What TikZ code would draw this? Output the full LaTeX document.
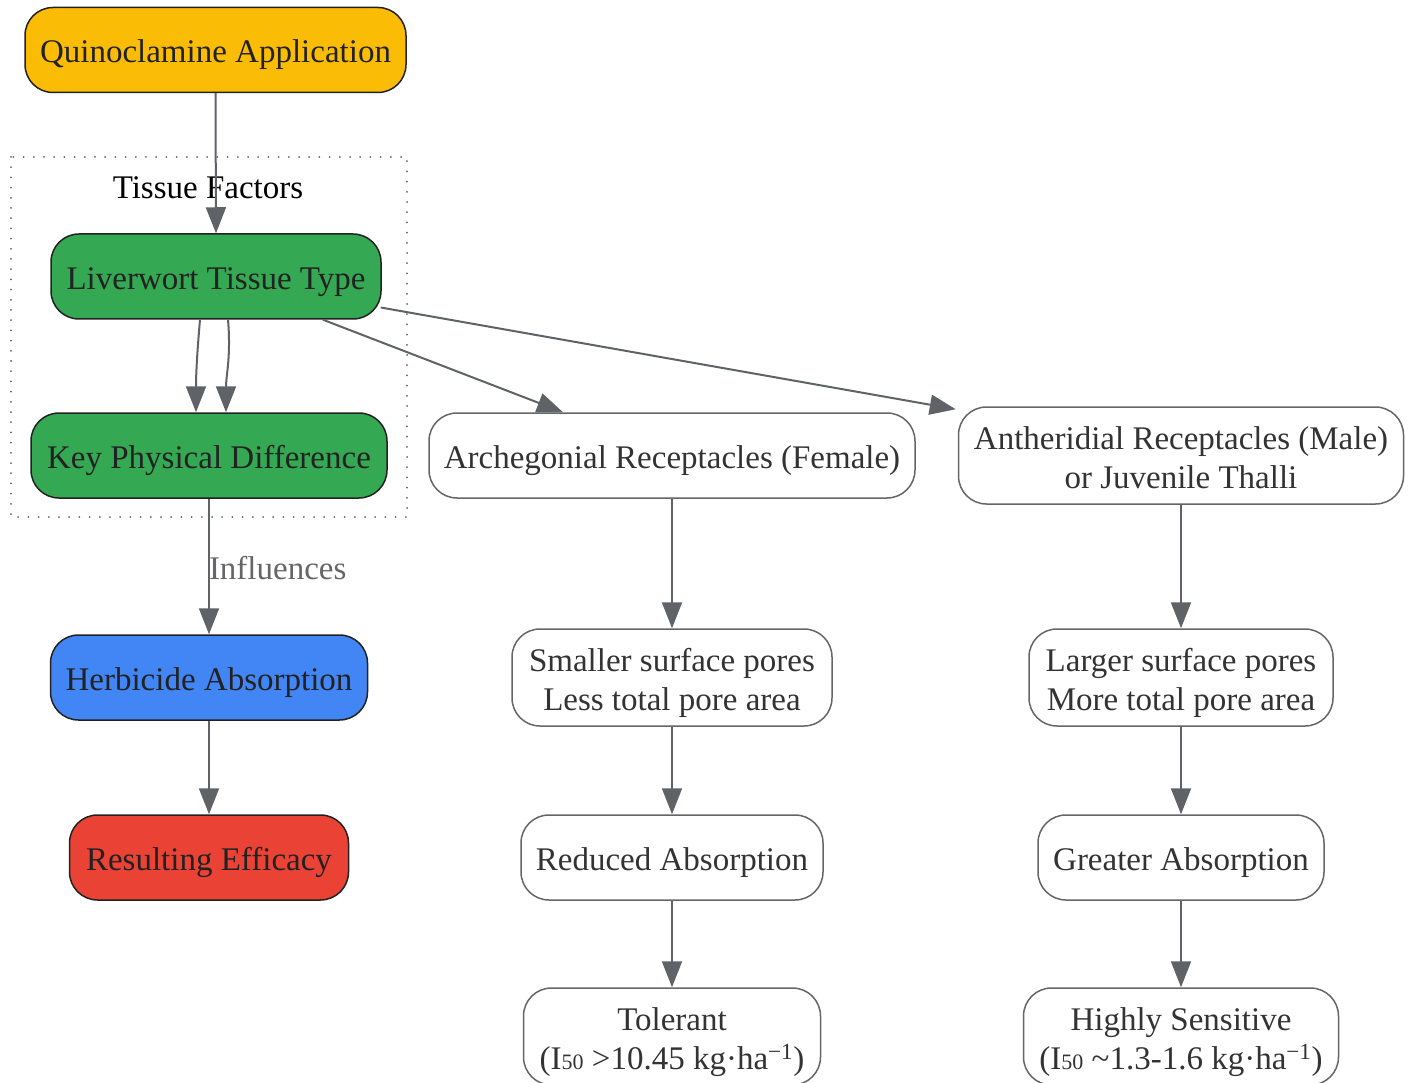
\documentclass[tikz,border=0pt]{standalone}
\usepackage{fontspec}
\setmainfont{Liberation Serif}
\usetikzlibrary{arrows.meta}
\definecolor{edgecol}{HTML}{5F6368}
\definecolor{cyellow}{HTML}{FBBC05}
\definecolor{cgreen}{HTML}{34A853}
\definecolor{cblue}{HTML}{4285F4}
\definecolor{cred}{HTML}{EA4335}
\definecolor{darkline}{HTML}{222222}
\definecolor{grayline}{HTML}{666666}
\definecolor{txtdark}{HTML}{222222}
\definecolor{txtgray}{HTML}{333333}
\newcommand{\isub}{I{\fontsize{22}{22}\selectfont 50}}
\newcommand{\sqinv}{\textsuperscript{−1}}
\tikzset{
  basebox/.style={rounded corners=28pt, line width=1.5pt, align=center,
    font=\fontsize{33}{39}\selectfont, inner sep=0pt, minimum height=85pt,
    text height=26pt, text depth=0pt},
  twoline/.style={minimum height=97pt, text depth=0pt},
  colbox/.style={basebox, draw=darkline, text=txtdark},
  whitebox/.style={basebox, draw=grayline, fill=white, text=txtgray},
  conn/.style={draw=edgecol, line width=2pt, -{Triangle[length=26pt,width=20pt]}},
}
\begin{document}
\begin{tikzpicture}[x=1pt,y=-1pt]
\useasboundingbox (0,0) rectangle (1414,1083);
% cluster
\draw[edgecol, line width=2pt, dash pattern=on 0pt off 10.2pt, line cap=round] (11,157) rectangle (407,517);
\node[font=\fontsize{33}{39}\selectfont, text=black] (tf) at (208,188) {Tissue Factors};

\node[colbox, fill=cyellow, minimum width=381pt] (qa) at (215.5,50) {Quinoclamine Application};
\node[colbox, fill=cgreen, minimum width=330pt] (lt) at (216,276.5) {Liverwort Tissue Type};
\node[colbox, fill=cgreen, minimum width=356pt] (kp) at (209,455.5) {Key Physical Difference};
\node[colbox, fill=cblue, minimum width=317pt] (ha) at (209,677.5) {Herbicide Absorption};
\node[colbox, fill=cred, minimum width=279pt] (re) at (209,857.5) {Resulting Efficacy};

\node[whitebox, minimum width=486pt] (ar) at (672,455.5) {Archegonial Receptacles (Female)};
\node[whitebox, twoline, text height=65pt, minimum width=445pt] (an) at (1181,455.5) {Antheridial Receptacles (Male)\\or Juvenile Thalli};
\node[whitebox, twoline, text height=65pt, minimum width=320pt] (sp) at (672,677.5) {Smaller surface pores\\Less total pore area};
\node[whitebox, twoline, text height=65pt, minimum width=304pt] (lp) at (1181,677.5) {Larger surface pores\\More total pore area};
\node[whitebox, minimum width=302pt] (ra) at (672,857.5) {Reduced Absorption};
\node[whitebox, minimum width=286pt] (ga) at (1181,857.5) {Greater Absorption};
\node[whitebox, twoline, text height=65pt, minimum width=297pt] (to) at (672,1036.5) {Tolerant\\(\isub\ >10.45 kg·ha\sqinv)};
\node[whitebox, twoline, text height=65pt, minimum width=315pt] (hs) at (1181,1036.5) {Highly Sensitive\\(\isub\ \textasciitilde1.3-1.6 kg·ha\sqinv)};

% connectors
\draw[conn] (qa.south) -- (lt.north);
\draw[conn] ([xshift=-16pt]lt.south) to[out=-95,in=90] ([xshift=-13pt]kp.north);
\draw[conn] ([xshift=12pt]lt.south) to[out=-85,in=90] ([xshift=17pt]kp.north);
\draw[conn] ([xshift=107pt]lt.south) -- ([xshift=-109pt]ar.north);
\draw[conn] ([xshift=-1pt,yshift=-31pt]lt.east) -- ([xshift=-2pt,yshift=-3pt]an.north west);
\draw[conn] (kp.south) -- node[pos=0.5, anchor=west, inner sep=0pt, xshift=-1pt, yshift=-2pt, font=\fontsize{33}{39}\selectfont, text=grayline] (infl) {Influences} (ha.north);
\draw[conn] (ha.south) -- (re.north);
\draw[conn] (ar.south) -- (sp.north);
\draw[conn] (sp.south) -- (ra.north);
\draw[conn] (ra.south) -- (to.north);
\draw[conn] (an.south) -- (lp.north);
\draw[conn] (lp.south) -- (ga.north);
\draw[conn] (ga.south) -- (hs.north);
\end{tikzpicture}
\end{document}
